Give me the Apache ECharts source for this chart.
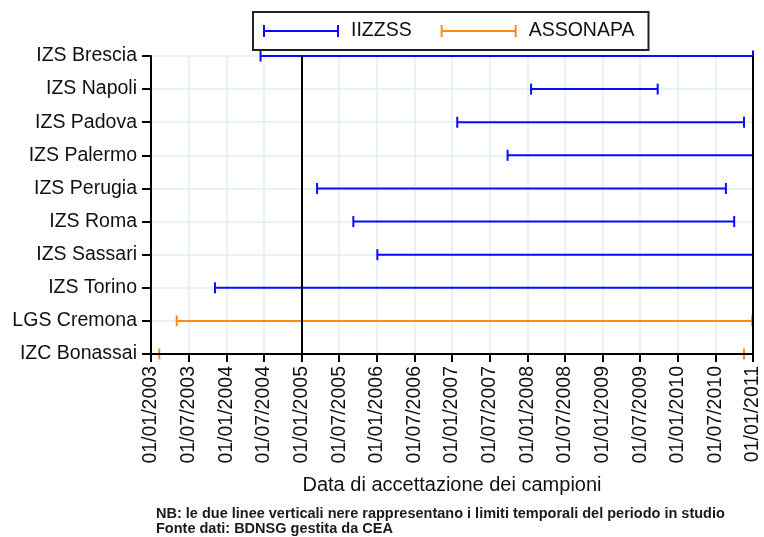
<!DOCTYPE html>
<html>
<head>
<meta charset="utf-8">
<script src="https://cdn.jsdelivr.net/npm/echarts@6/dist/echarts.min.js"></script>
<style>html,body{margin:0;padding:0;background:#fff}#c{width:764px;height:537px}</style>
</head>
<body>
<div id="c"></div>
<script>
// ---- data ----
const categories = ['IZS Brescia','IZS Napoli','IZS Padova','IZS Palermo','IZS Perugia','IZS Roma','IZS Sassari','IZS Torino','LGS Cremona','IZC Bonassai'];
const network = ['IIZZSS','IIZZSS','IIZZSS','IIZZSS','IIZZSS','IIZZSS','IIZZSS','IIZZSS','ASSONAPA','ASSONAPA'];
const startDates = ['2004-06-15','2008-01-20','2007-01-27','2007-09-27','2005-03-16','2005-09-09','2006-01-04','2003-11-07','2003-05-04','2003-02-10'];
const endDates   = ['2011-01-01','2009-09-25','2010-11-18','2011-01-01','2010-08-22','2010-10-01','2011-01-01','2011-01-01','2010-12-28','2010-11-18'];
const seriesNames = ['IIZZSS','ASSONAPA'];
const seriesColors = ['#0a0aff','#ff8a14'];
const studyLimits = ['2005-01-01','2011-01-01'];
const axisStart = '2003-01-01';
const axisEnd = '2011-01-01';
const tickStepMonths = 6;
const xTitle = 'Data di accettazione dei campioni';
const noteLines = ['NB: le due linee verticali nere rappresentano i limiti temporali del periodo in studio','Fonte dati: BDNSG gestita da CEA'];

const baseYear = Number(axisStart.slice(0,4));
function toMonths(s){
  const p = s.split('-').map(Number);
  const dim = new Date(Date.UTC(p[0], p[1], 0)).getUTCDate();
  return (p[0]-baseYear)*12 + (p[1]-1) + (p[2]-1)/dim;
}
function monthLabel(v){
  const m = Math.round(v);
  const y = baseYear + Math.floor(m/12);
  const mo = (m % 12) + 1;
  return '01/' + (mo<10?'0':'') + mo + '/' + y;
}
const xMin = toMonths(axisStart), xMax = toMonths(axisEnd);
const FONT = "'Liberation Sans', Arial, sans-serif";

function makeSeries(name, color, idx){
  const data = [];
  categories.forEach((c,i)=>{ if(network[i]===name) data.push([i, toMonths(startDates[i]), toMonths(endDates[i])]); });
  const s = {
    name: name,
    type: 'custom',
    itemStyle: {color: color},
    encode: {x:[1,2], y:0},
    data: data,
    z: 3,
    renderItem: function(params, api){
      const cat = api.value(0);
      const a = api.coord([api.value(1), cat]);
      const b = api.coord([api.value(2), cat]);
      const h = 5.5;
      const st = {stroke: color, lineWidth: 2};
      return {type:'group', children:[
        {type:'line', shape:{x1:a[0], y1:a[1], x2:b[0], y2:b[1]}, style: st},
        {type:'line', shape:{x1:a[0], y1:a[1]-h, x2:a[0], y2:a[1]+h}, style: st},
        {type:'line', shape:{x1:b[0], y1:b[1]-h, x2:b[0], y2:b[1]+h}, style: st}
      ]};
    }
  };
  if(idx===0){
    s.markLine = {
      silent: true, symbol: ['none','none'], label:{show:false},
      lineStyle: {color:'#000', width:2, type:'solid'},
      data: studyLimits.map(d => ({xAxis: toMonths(d)}))
    };
  }
  return s;
}

const chart = echarts.init(document.getElementById('c'), null, {renderer:'canvas'});
chart.setOption({
  animation: false,
  backgroundColor: '#fff',
  title: {
    text: noteLines.join('\n'),
    left: 151, top: 501,
    textStyle: {fontFamily: FONT, fontSize: 14.5, lineHeight: 15.5, fontWeight: 'bold', color: '#1a1a1a'}
  },
  legend: {
    data: seriesNames,
    left: 253, top: 12,
    padding: [9, 14, 9, 10],
    itemGap: 29,
    itemWidth: 76, itemHeight: 12,
    icon: 'path://M0,0H2V5H74V0H76V12H74V7H2V12H0Z',
    borderColor: '#222', borderWidth: 2,
    selectedMode: false,
    textStyle: {fontFamily: FONT, fontSize: 19.5, color: '#111', padding: [0,0,0,7]}
  },
  grid: {left: 151, right: 11, top: 56, bottom: 183, outerBoundsMode: 'none'},
  xAxis: [{
    type: 'value', min: xMin, max: xMax, interval: tickStepMonths,
    position: 'bottom', z: 10,
    axisLine: {show: true, lineStyle: {color:'#000', width:2}},
    axisTick: {show: true, length: 8, lineStyle: {color:'#000', width:2}},
    axisLabel: {rotate: 90, margin: 12, fontFamily: FONT, fontSize: 19.5, color:'#111', formatter: monthLabel},
    splitLine: {show: false},
    name: xTitle, nameLocation: 'middle', nameGap: 121,
    nameTextStyle: {fontFamily: FONT, fontSize: 20, color:'#111'}
  },{
    type: 'value', min: xMin, max: xMax, interval: tickStepMonths,
    position: 'bottom', z: 0,
    axisLine: {show:false}, axisTick: {show:false}, axisLabel: {show:false},
    splitLine: {show:true, lineStyle:{color:'#e2eef0', width:1.5}}
  }],
  yAxis: {
    type: 'category', data: categories, inverse: true, boundaryGap: false,
    axisLine: {show:true, lineStyle:{color:'#000', width:2}},
    axisTick: {show:true, length: 9, lineStyle:{color:'#000', width:2}},
    axisLabel: {margin: 14, fontFamily: FONT, fontSize: 19.5, color:'#111'},
    splitLine: {show:true, lineStyle:{color:'#e2eef0', width:1.5}}
  },
  series: seriesNames.map((n,i)=>makeSeries(n, seriesColors[i], i))
});
</script>
</body>
</html>
